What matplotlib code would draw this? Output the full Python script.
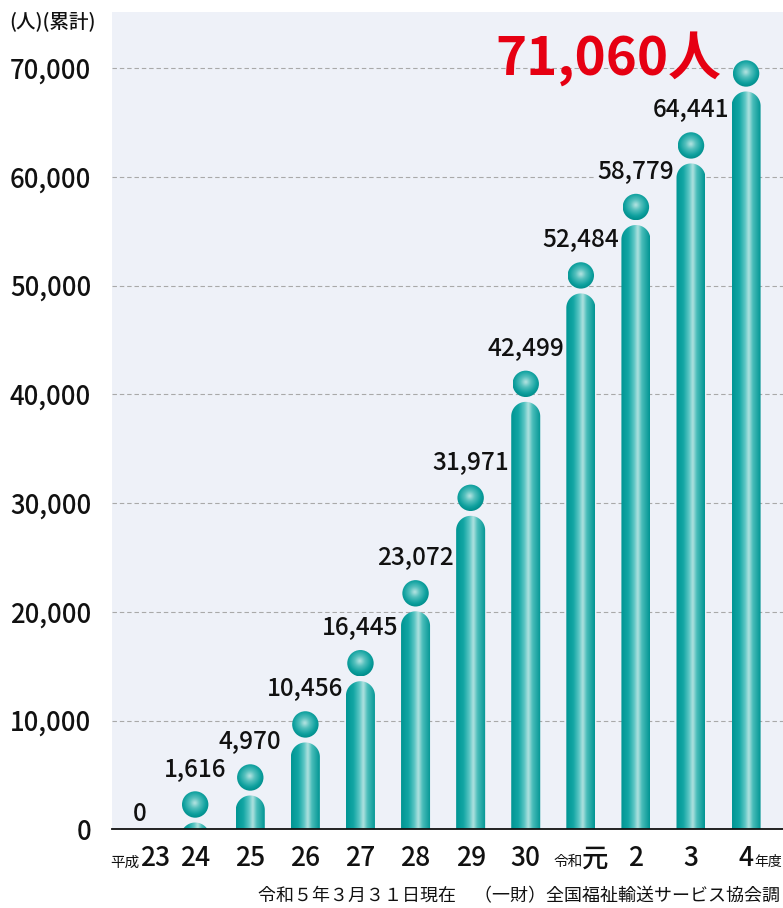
import numpy as np
import matplotlib
matplotlib.use("Agg")
import matplotlib.pyplot as plt
from matplotlib.patches import Ellipse, PathPatch
from matplotlib.path import Path
from matplotlib.colors import LinearSegmentedColormap

plt.rcParams['font.family'] = ['Noto Sans CJK JP', 'DejaVu Sans']

# ---------------- data ----------------
era_prefix = ['平成', '', '', '', '', '', '', '', '令和', '', '', '']
year_labels = ['23', '24', '25', '26', '27', '28', '29', '30', '元', '2', '3', '4']
values = [0, 1616, 4970, 10456, 16445, 23072, 31971, 42499, 52484, 58779, 64441, 71060]
value_labels = ['0', '1,616', '4,970', '10,456', '16,445', '23,072', '31,971',
                '42,499', '52,484', '58,779', '64,441', '']
total_label = '71,060人'
y_ticks = [0, 10000, 20000, 30000, 40000, 50000, 60000, 70000]
y_tick_labels = ['0', '10,000', '20,000', '30,000', '40,000', '50,000', '60,000', '70,000']
unit_label = '(人)(累計)'
suffix_label = '年度'
source_note = '令和５年３月３１日現在　（一財）全国福祉輸送サービス協会調'

# ---------------- layout ----------------
W, H, DPI = 783, 908, 100
PT = 72.0 / DPI  # points per pixel
AX_L, AX_R, AX_T, AX_B = 112, 783, 12, 829.3
XLIM = (-0.51, 11.67)
YLIM = (0, 75150)
BG = '#EEF1F8'
TXT = '#111111'

fig = plt.figure(figsize=(W / DPI, H / DPI), dpi=DPI)
ax = fig.add_axes([AX_L / W, (H - AX_B) / H, (AX_R - AX_L) / W, (AX_B - AX_T) / H])
ax.set_facecolor(BG)
ax.set_xlim(*XLIM)
ax.set_ylim(*YLIM)

sx = (AX_R - AX_L) / (XLIM[1] - XLIM[0])   # px per category
sy = (AX_B - AX_T) / (YLIM[1] - YLIM[0])   # px per person

body_cmap = LinearSegmentedColormap.from_list(
    'body', [(0.0, '#009593'), (0.25, '#12A6A4'), (0.45, '#5CC6C4'),
             (0.58, '#B2E2E0'), (0.72, '#49BDBA'), (1.0, '#009492')])
head_cmap = LinearSegmentedColormap.from_list(
    'head', [(0.0, '#B8E5E3'), (0.35, '#55C0BD'), (0.75, '#0FA19F'), (1.0, '#008E8C')])

BODY_HALF_PX = 14.5
HEAD_R_PX = 13.2
HEAD_MIN_PX = 24.8
NECK_PX = 18


def head_center_px(v):
    vpx = v * sy
    drop = 17 * (1 - np.exp(-(vpx - 40) / 100.0))
    return max(vpx - drop, HEAD_MIN_PX)


grad = np.linspace(0, 1, 256).reshape(1, -1)
gy, gx = np.mgrid[-1:1:128j, -1:1:128j]
radial = np.clip(np.sqrt((gx + 0.05) ** 2 + (gy - 0.12) ** 2) / 1.1, 0, 1)

for i, v in enumerate(values):
    if v <= 0:
        continue
    hc_px = head_center_px(v)
    body_top_px = hc_px - NECK_PX
    hw = BODY_HALF_PX / sx
    ry = BODY_HALF_PX / sy
    cap_c = (body_top_px - BODY_HALF_PX) / sy
    bottom = -3 * ry
    t = np.linspace(np.pi, 0, 60)
    verts = [(i - hw, bottom), (i - hw, cap_c)]
    verts += list(zip(i + hw * np.cos(t), cap_c + ry * np.sin(t)))
    verts += [(i + hw, cap_c), (i + hw, bottom), (i - hw, bottom)]
    codes = [Path.MOVETO] + [Path.LINETO] * (len(verts) - 2) + [Path.CLOSEPOLY]
    body = PathPatch(Path(verts, codes), facecolor='none', edgecolor='none', zorder=2)
    ax.add_patch(body)
    im = ax.imshow(grad, extent=(i - hw, i + hw, bottom, cap_c + ry), aspect='auto',
                   cmap=body_cmap, interpolation='bicubic', zorder=2)
    im.set_clip_path(body)

    hc = hc_px / sy
    hrx, hry = HEAD_R_PX / sx, HEAD_R_PX / sy
    head = Ellipse((i, hc), 2 * hrx, 2 * hry, facecolor='none', edgecolor='none', zorder=2)
    ax.add_patch(head)
    im2 = ax.imshow(radial, extent=(i - hrx, i + hrx, hc - hry, hc + hry), origin='lower',
                    aspect='auto', cmap=head_cmap, interpolation='bicubic', zorder=2)
    im2.set_clip_path(head)

ax.set_xlim(*XLIM)
ax.set_ylim(*YLIM)

# value labels
for i, (v, lab) in enumerate(zip(values, value_labels)):
    if not lab:
        continue
    y_px = head_center_px(v) + 28 if v > 0 else 8
    ax.annotate(lab, xy=(i, 0), xytext=(0, y_px * PT), textcoords='offset points',
                ha='center', va='baseline', fontsize=17.5, fontweight='medium',
                color=TXT, zorder=1.5, annotation_clip=False,
                bbox=dict(boxstyle='square,pad=0.08', facecolor=BG, edgecolor='none'))

# total label
ax.annotate(total_label, xy=(len(values) - 1, values[-1]), xytext=(-25 * PT, -18.5 * PT),
            textcoords='offset points', ha='right', va='baseline', fontsize=38,
            fontweight='bold', color='#E60012', zorder=4, annotation_clip=False)

# axes styling
ax.set_yticks(y_ticks, y_tick_labels, fontsize=18.5, color=TXT, fontweight='medium')
ax.tick_params(axis='y', length=0, pad=15)
ax.set_xticks([])
ax.set_axisbelow(True)
ax.yaxis.grid(True, color='#A9A9A9', linestyle=(0, (4, 2.6)), linewidth=0.8)
for s in ['left', 'top', 'right']:
    ax.spines[s].set_visible(False)
ax.spines['bottom'].set_color(TXT)
ax.spines['bottom'].set_linewidth(1.3)
ax.spines['bottom'].set_zorder(5)

# category labels
fig.canvas.draw()
renderer = fig.canvas.get_renderer()
CAT_Y = -37 * PT
for i, (pre, lab) in enumerate(zip(era_prefix, year_labels)):
    big = ax.annotate(lab, xy=(i, 0), xytext=(0, CAT_Y), textcoords='offset points',
                      ha='center', va='baseline', fontsize=19, fontweight='medium',
                      color=TXT, annotation_clip=False)
    if pre:
        big.set_ha('left')
        small = ax.annotate(pre, xy=(i, 0), xytext=(0, CAT_Y), textcoords='offset points',
                            ha='right', va='baseline', fontsize=10.5, color=TXT,
                            annotation_clip=False)
        wb = big.get_window_extent(renderer).width
        ws = small.get_window_extent(renderer).width
        shift = (ws - wb) / 2.0 * PT
        big.set_position((shift, CAT_Y))
        small.set_position((shift, CAT_Y))
    if i == len(year_labels) - 1:
        wb = big.get_window_extent(renderer).width
        ax.annotate(suffix_label, xy=(i, 0), xytext=(wb / 2.0 * PT + 0.5, CAT_Y),
                    textcoords='offset points', ha='left', va='baseline', fontsize=10,
                    color=TXT, annotation_clip=False)

fig.text(9 / W, 1 - 21 / H, unit_label, fontsize=14, ha='left', va='center', color=TXT,
         fontweight='medium')
fig.text(780 / W, 1 - 901 / H, source_note, fontsize=12.95, ha='right', va='baseline',
         color=TXT)

fig.savefig('out.png', dpi=DPI, facecolor='white')
